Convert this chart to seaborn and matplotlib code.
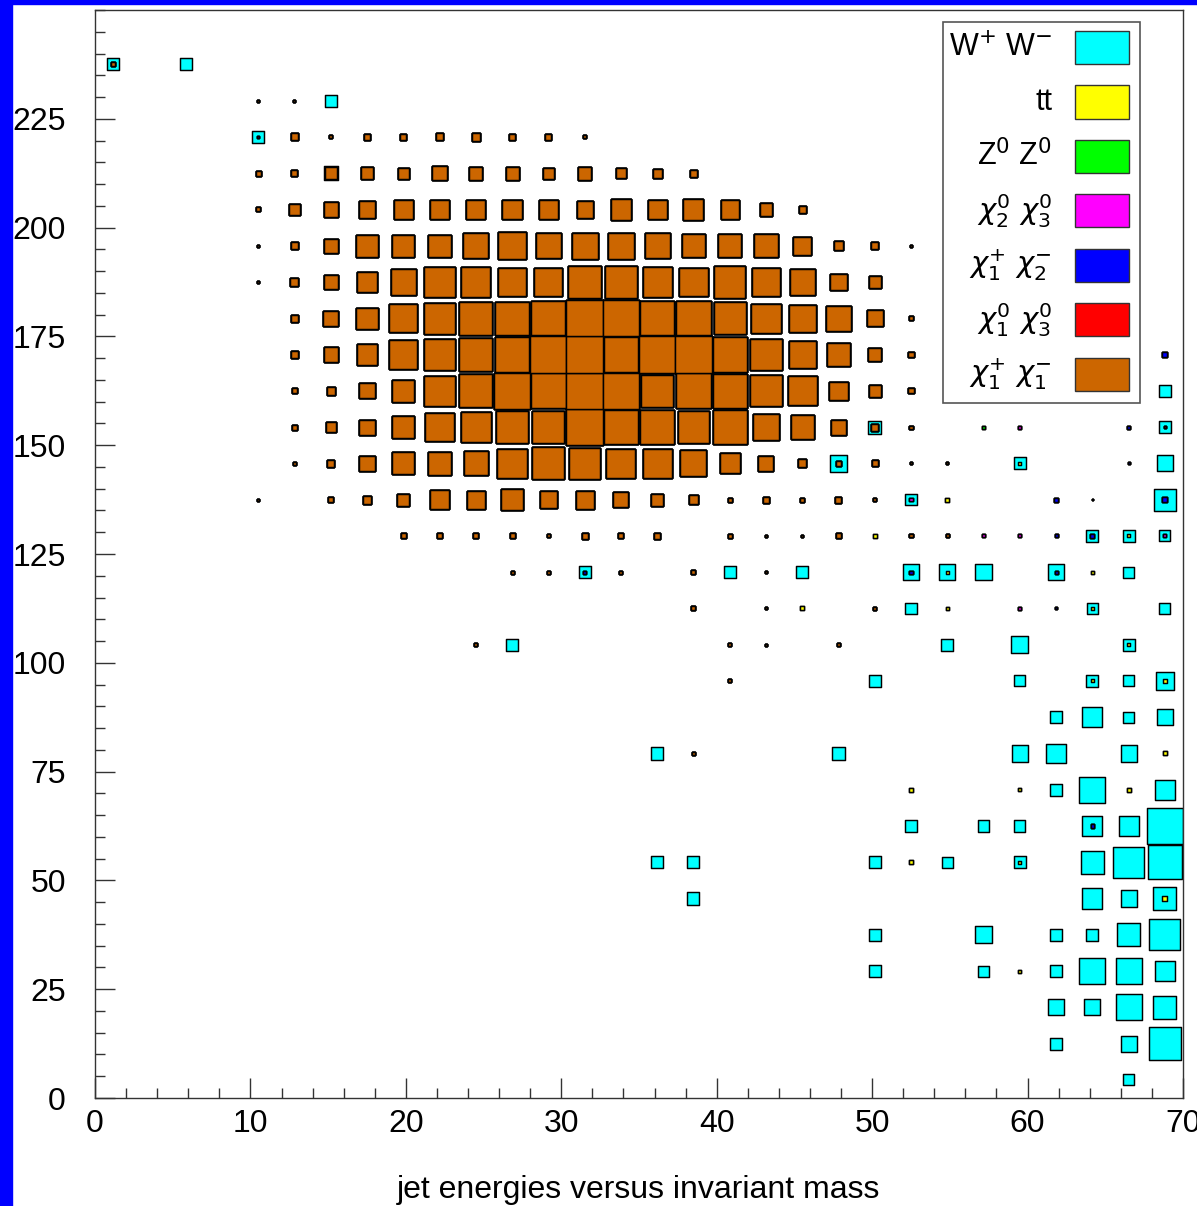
import numpy as np
import pandas as pd
import matplotlib
matplotlib.use("Agg")
import matplotlib.pyplot as plt
from matplotlib.patches import Rectangle
from matplotlib.ticker import MultipleLocator
from matplotlib import font_manager
import seaborn as sns

# ---------------- data ----------------
X_RANGE = (0, 70)
Y_RANGE = (0, 250)
NBINS = 30
NMAX = 36.0  # bin content that fills a whole cell

# stack order: bottom -> top
stack_names = ["chi1p_chi1m", "chi01_chi03", "chi1p_chi2m", "chi02_chi03", "ZZ", "tt", "WW"]
stack_colors = ["#CC6600", "#FF0000", "#0000FF", "#FF00FF", "#00FF00", "#FFFF00", "#00FFFF"]

legend_labels = [r"W$^{+}$ W$^{-}$", "tt", r"Z$^{0}$ Z$^{0}$",
                 r"$\chi^{0}_{2}\ \chi^{0}_{3}$", r"$\chi^{+}_{1}\ \chi^{-}_{2}$",
                 r"$\chi^{0}_{1}\ \chi^{0}_{3}$", r"$\chi^{+}_{1}\ \chi^{-}_{1}$"]
legend_colors = ["#00FFFF", "#FFFF00", "#00FF00", "#FF00FF", "#0000FF", "#FF0000", "#CC6600"]

# chi1+ chi1- : rows of (y bin, first x bin, contents)
chi1p_chi1m_rows = [
    (28, 0, [4]),
    (27, 4, [2, 2]),
    (26, 5, [7, 3, 6, 6, 7, 8, 6, 6, 3]),
    (25, 4, [5, 6, 12, 12, 11, 14, 13, 13, 11, 13, 10, 9, 7]),
    (24, 4, [4, 10, 14, 16, 19, 19, 19, 19, 19, 16, 20, 19, 20, 18, 12, 7]),
    (23, 4, [2, 7, 14, 22, 22, 22, 25, 27, 25, 26, 26, 25, 23, 23, 23, 18, 9, 7, 2]),
    (22, 4, [2, 8, 14, 19, 25, 30, 29, 27, 28, 32, 32, 29, 28, 31, 27, 25, 16, 12]),
    (21, 5, [7, 15, 21, 28, 31, 33, 33, 34, 36, 36, 34, 34, 32, 29, 27, 25, 16, 4]),
    (20, 5, [7, 14, 20, 28, 31, 33, 34, 36, 36, 34, 36, 36, 34, 31, 27, 23, 13, 5, 3]),
    (19, 5, [5, 8, 15, 22, 30, 33, 36, 35, 36, 36, 32, 35, 34, 31, 29, 18, 12, 5]),
    (18, 5, [5, 10, 15, 22, 28, 30, 32, 32, 36, 34, 34, 31, 34, 26, 23, 15, 7, 3]),
    (17, 5, [3, 7, 15, 22, 23, 24, 29, 32, 31, 29, 29, 26, 20, 15, 8, 5, 6, 2, 2]),
    (16, 4, [2, 0, 5, 8, 12, 19, 18, 21, 17, 18, 15, 12, 9, 4, 6, 4, 6, 3]),
    (15, 8, [5, 5, 5, 5, 3, 6, 5, 6, 0, 4, 2, 2, 5, 0, 3, 3]),
    (14, 11, [3, 3, 0, 3, 0, 4, 0, 2]),
    (13, 16, [4, 0, 2, 0, 0, 3]),
    (12, 10, [3]),
    (12, 17, [3, 2, 0, 3]),
    (11, 17, [3]),
    (9, 16, [3]),
]

# other processes: (x bin, y bin, content)
chi01_chi03_cells = [(27, 16, 1), (29, 18, 2)]
chi1p_chi2m_cells = [(29, 20, 5), (28, 18, 3), (28, 17, 2), (26, 16, 4), (29, 16, 5),
                     (26, 15, 3), (27, 15, 4), (13, 14, 3), (22, 14, 3), (26, 14, 3),
                     (26, 13, 2), (27, 7, 3), (4, 26, 2)]
chi02_chi03_cells = [(25, 18, 3), (22, 16, 3), (24, 15, 3), (25, 15, 3), (29, 15, 3), (25, 13, 3)]
zz_cells = [(24, 18, 3)]
tt_cells = [(21, 15, 4), (19, 13, 4), (23, 16, 4), (25, 17, 3), (28, 15, 3), (23, 14, 3),
            (27, 14, 3), (23, 13, 3), (27, 13, 3), (28, 12, 3), (27, 11, 3), (29, 11, 4),
            (29, 9, 4), (22, 8, 4), (25, 8, 3), (28, 8, 4), (22, 6, 4), (25, 6, 3),
            (29, 5, 5), (25, 3, 3)]
ww_cells = [
    (0, 28, 8), (2, 28, 12), (6, 27, 12), (4, 26, 10), (6, 25, 2),
    (29, 19, 12), (21, 18, 6), (29, 18, 10), (20, 17, 12), (25, 17, 9), (29, 17, 16),
    (22, 16, 8), (29, 16, 17), (27, 15, 8), (28, 15, 9), (29, 15, 8),
    (13, 14, 9), (17, 14, 12), (19, 14, 12), (22, 14, 13), (23, 14, 13), (24, 14, 16),
    (26, 14, 13), (28, 14, 11), (22, 13, 11), (27, 13, 8), (29, 13, 11),
    (11, 12, 12), (23, 12, 12), (25, 12, 17), (28, 12, 9),
    (21, 11, 12), (25, 11, 11), (27, 11, 9), (28, 11, 11), (29, 11, 14),
    (26, 10, 12), (27, 10, 20), (28, 10, 11), (29, 10, 16),
    (15, 9, 12), (20, 9, 12), (25, 9, 16), (26, 9, 19), (28, 9, 16),
    (26, 8, 12), (27, 8, 26), (29, 8, 20),
    (22, 7, 11), (24, 7, 11), (25, 7, 11), (27, 7, 17), (28, 7, 20), (29, 7, 36),
    (15, 6, 12), (16, 6, 12), (21, 6, 12), (23, 6, 11), (25, 6, 9), (27, 6, 23),
    (28, 6, 31), (29, 6, 34),
    (16, 5, 12), (27, 5, 20), (28, 5, 16), (29, 5, 18),
    (21, 4, 12), (24, 4, 17), (26, 4, 12), (27, 4, 12), (28, 4, 23), (29, 4, 31),
    (21, 3, 12), (24, 3, 11), (26, 3, 12), (27, 3, 26), (28, 3, 26), (29, 3, 20),
    (26, 2, 16), (27, 2, 16), (28, 2, 26), (29, 2, 23),
    (26, 1, 12), (28, 1, 16), (29, 1, 32),
    (28, 0, 11),
]

# ---------------- build histograms ----------------
xedges = np.linspace(*X_RANGE, NBINS + 1)
yedges = np.linspace(*Y_RANGE, NBINS + 1)
xc = 0.5 * (xedges[:-1] + xedges[1:])
yc = 0.5 * (yedges[:-1] + yedges[1:])

hists = {n: np.zeros((NBINS, NBINS)) for n in stack_names}
for iy, ix0, vals in chi1p_chi1m_rows:
    for k, v in enumerate(vals):
        hists["chi1p_chi1m"][ix0 + k, iy] += v
for name, cells in [("chi01_chi03", chi01_chi03_cells), ("chi1p_chi2m", chi1p_chi2m_cells),
                    ("chi02_chi03", chi02_chi03_cells), ("ZZ", zz_cells),
                    ("tt", tt_cells), ("WW", ww_cells)]:
    for ix, iy, v in cells:
        hists[name][ix, iy] += v

cum = np.cumsum(np.stack([hists[n] for n in stack_names]), axis=0)

# ---------------- figure ----------------
W, H = 1197, 1206
sns.set_style("white")
plt.rcParams["font.family"] = ["Liberation Sans", "DejaVu Sans"]
plt.rcParams["mathtext.fontset"] = "dejavusans"

installed = {f.name for f in font_manager.fontManager.ttflist}
narrow = "Liberation Sans Narrow" if "Liberation Sans Narrow" in installed else None

fig = plt.figure(figsize=(W / 100, H / 100), dpi=100)
fig.patch.set_facecolor("white")
ax = fig.add_axes([95 / W, 1 - 1098 / H, 1088 / W, 1088 / H])
ax.set_xlim(*X_RANGE)
ax.set_ylim(*Y_RANGE)

cell_pt = (1088 / 100 * 72) / NBINS
s_full = cell_pt ** 2

for k in reversed(range(len(stack_names))):
    c = cum[k]
    ix, iy = np.nonzero(c > 0)
    df = pd.DataFrame({"x": xc[ix], "y": yc[iy], "n2": np.minimum(c[ix, iy], NMAX) ** 2})
    sns.scatterplot(data=df, x="x", y="y", size="n2", sizes=(0, s_full),
                    size_norm=(0, NMAX ** 2), marker="s", color=stack_colors[k],
                    edgecolor="black", linewidth=1.05, legend=False, ax=ax, zorder=2 + (6 - k))

# axes styling
for sp in ax.spines.values():
    sp.set_color("#333333")
    sp.set_linewidth(1.0)
ax.set_xticks(np.arange(0, 71, 10))
ax.xaxis.set_minor_locator(MultipleLocator(2))
ax.set_yticks(np.arange(0, 226, 25))
ax.yaxis.set_minor_locator(MultipleLocator(5))
ax.tick_params(which="both", direction="in", bottom=True, left=True, top=False, right=False,
               color="#333333", width=1.0, labelcolor="black")
ax.tick_params(which="major", length=14.4, labelsize=23)
ax.tick_params(which="minor", length=7.2)
ax.tick_params(axis="y", which="major", pad=21)
ax.tick_params(axis="x", which="major", pad=8)
ax.set_xlabel("")
ax.set_ylabel("")
fig.text(639 / W, 1 - 1190 / H, "jet energies versus invariant mass", ha="center", va="center",
         fontsize=23, color="black")

# legend (drawn as a ROOT-style box)
fig.patches.append(Rectangle((943 / W, 1 - 403 / H), 197 / W, 381 / H, transform=fig.transFigure,
                             facecolor="white", edgecolor="#555555", lw=1.2, zorder=10))
for k, (lab, col) in enumerate(zip(legend_labels, legend_colors)):
    ycen = 47.5 + k * 54.5
    fig.patches.append(Rectangle((1075 / W, 1 - (ycen + 16.5) / H), 54 / W, 33 / H,
                                 transform=fig.transFigure, facecolor=col,
                                 edgecolor="#333333", lw=1.0, zorder=11))
    kw = {"family": [narrow, "DejaVu Sans"]} if (narrow and "$" not in lab) else {}
    fig.text(1052 / W, 1 - ycen / H, lab, ha="right", va="center",
             fontsize=21 if "chi" in lab else 22, color="black", zorder=12, **kw)

# blue canvas border strips
fig.patches.append(Rectangle((0, 0), 12 / W, 1, transform=fig.transFigure, color="#0000FF", zorder=20))
fig.patches.append(Rectangle((0, 1 - 4 / H), 1, 4 / H, transform=fig.transFigure, color="#0000FF", zorder=20))

fig.savefig("out.png", dpi=100)
